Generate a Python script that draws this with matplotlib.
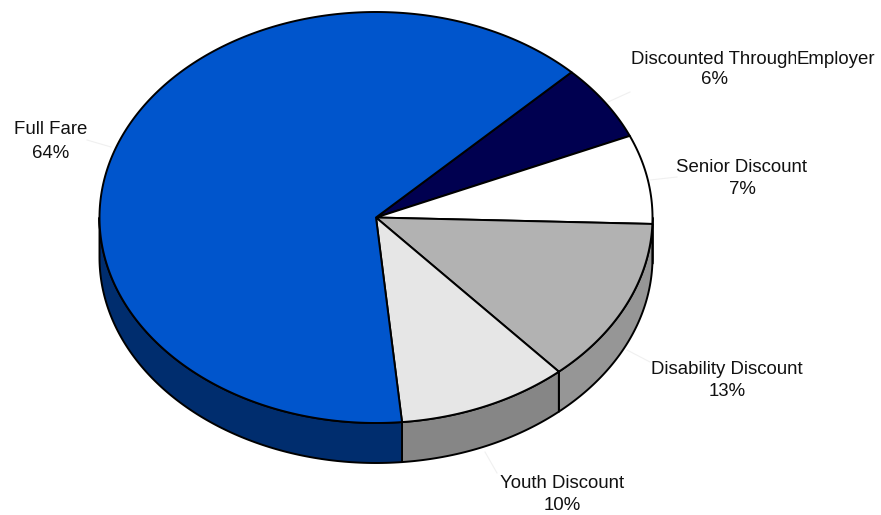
import numpy as np
import matplotlib
matplotlib.use("Agg")
import matplotlib.pyplot as plt
from matplotlib.patches import Polygon

plt.rcParams['font.family'] = ['Liberation Sans', 'DejaVu Sans']

# Fare categories, clockwise from the Full Fare / Employer boundary
categories = ["Discounted Through Employer", "Senior Discount", "Disability Discount",
              "Youth Discount", "Full Fare"]
shares = [6, 7, 13, 10, 64]
top_colors = ["#000050", "#FFFFFF", "#B2B2B2", "#E6E6E6", "#0055CC"]
side_colors = ["#000038", "#E0E0E0", "#969696", "#868686", "#002D6E"]

# Label anchor points (name line, percent line) in pixel space
label_pos = {
    "Full Fare": ((51, 130), (51, 153)),
    "Discounted Through Employer": ((None, 59), (715, 80)),
    "Senior Discount": ((742, 167), (742, 189)),
    "Disability Discount": ((727, 369), (727, 391)),
    "Youth Discount": ((562, 484), (562, 506)),
}
leaders = {
    "Full Fare": ((87, 140), (111, 147)),
    "Discounted Through Employer": ((608, 102), (630, 92)),
    "Senior Discount": ((650, 180), (677, 177)),
    "Disability Discount": ((627, 350), (650, 362)),
    "Youth Discount": ((485, 452), (497, 473)),
}

W, H = 881, 515
fig = plt.figure(figsize=(W / 100, H / 100), dpi=100)
ax = fig.add_axes([0, 0, 1, 1])
ax.set_xlim(0, W)
ax.set_ylim(H, 0)
ax.axis("off")

cx, cy, rx, ry, depth = 376, 217.5, 276.5, 205.5, 40
start = 45.0  # degrees, boundary between Full Fare and the employer slice


def pt(t_deg, dy=0.0):
    t = np.radians(t_deg)
    return cx + rx * np.cos(t), cy - ry * np.sin(t) + dy


total = float(sum(shares))
bounds = []
a = start
for v in shares:
    b = a - 360.0 * v / total
    bounds.append((b, a))  # slice spans angles b..a (counterclockwise)
    a = b

lw = 1.4

# Side walls: only the front half (angles 180..360) is visible
for (b, a), sc in zip(bounds, side_colors):
    for off in (-360, 0, 360):
        lo = max(b + off, 180)
        hi = min(a + off, 360)
        if hi - lo <= 0.01:
            continue
        ts = np.linspace(lo, hi, 120)
        top = [pt(t) for t in ts]
        bot = [pt(t, depth) for t in ts[::-1]]
        ax.add_patch(Polygon(top + bot, closed=True, facecolor=sc,
                             edgecolor="black", linewidth=lw, joinstyle="round",
                             zorder=2))

# Top faces
for (b, a), tc in zip(bounds, top_colors):
    ts = np.linspace(b, a, 300)
    verts = [(cx, cy)] + [pt(t) for t in ts]
    ax.add_patch(Polygon(verts, closed=True, facecolor=tc, edgecolor="black",
                         linewidth=lw, joinstyle="round", zorder=3))

# Faint leader lines
for name, (p0, p1) in leaders.items():
    ax.plot([p0[0], p1[0]], [p0[1], p1[1]], color="#F0F0F0", lw=0.8, zorder=1)

fs = 13.4
for name, v in zip(categories, shares):
    (nx, ny), (px, py) = label_pos[name]
    if name == "Discounted Through Employer":
        ax.text(631, ny, "Discounted Through", ha="left", va="center",
                fontsize=fs, color="#111111", zorder=4)
        ax.text(797, ny, "Employer", ha="left", va="center",
                fontsize=fs, color="#111111", zorder=5,
                bbox=dict(facecolor="white", edgecolor="none", pad=0.5))
    else:
        ax.text(nx, ny, name, ha="center", va="center", fontsize=fs,
                color="#111111", zorder=4)
    ax.text(px, py, f"{v}%", ha="center", va="center", fontsize=fs,
            color="#111111", zorder=4)

fig.savefig("out.png", dpi=100, facecolor="white")
